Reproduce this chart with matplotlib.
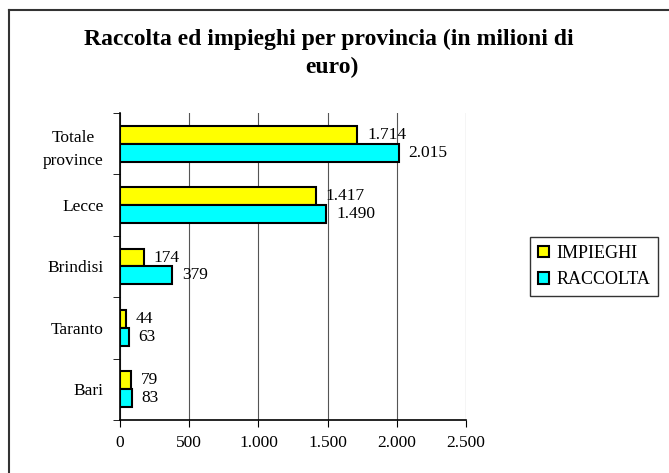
import numpy as np
import matplotlib.pyplot as plt
from matplotlib.lines import Line2D

province = ["Bari", "Taranto", "Brindisi", "Lecce", "Totale\nprovince"]
impieghi = [79, 44, 174, 1417, 1714]
raccolta = [83, 63, 379, 1490, 2015]
xticks = [0, 500, 1000, 1500, 2000, 2500]

def fmt(v):
    return f"{v:,}".replace(",", ".")

plt.rcParams['font.family'] = ['Liberation Serif', 'DejaVu Serif']

fig = plt.figure(figsize=(6.69, 4.73), dpi=100)
ax = fig.add_axes([0.1794, 0.1121, 0.5172, 0.649])

# cornice: solo lato sinistro e superiore visibili
x0, y0 = 8.5/669, 1 - 10.5/473
fig.lines.append(Line2D([x0, x0], [0, y0], transform=fig.transFigure, color="#333333", linewidth=1.5))
fig.lines.append(Line2D([x0, 1], [y0, y0], transform=fig.transFigure, color="#333333", linewidth=1.5))

y = np.arange(len(province))
h = 0.29
ax.barh(y + h/2, impieghi, h, color="#ffff00", edgecolor="black", linewidth=1.5, label="IMPIEGHI", zorder=3)
ax.barh(y - h/2, raccolta, h, color="#00ffff", edgecolor="black", linewidth=1.5, label="RACCOLTA", zorder=3)

for i in range(len(province)):
    ax.annotate(fmt(impieghi[i]), (impieghi[i], y[i] + h/2), xytext=(7, 0), textcoords="offset points",
                va="center", ha="left", fontsize=12.5)
    ax.annotate(fmt(raccolta[i]), (raccolta[i], y[i] - h/2), xytext=(7, 0), textcoords="offset points",
                va="center", ha="left", fontsize=12.5)

ax.set_xlim(0, 2500)
ax.set_ylim(-0.5, len(province) - 0.5)
ax.set_xticks(xticks)
ax.set_xticklabels([fmt(v) for v in xticks], fontsize=12.5)
ax.set_yticks(y)
ax.set_yticklabels(province, fontsize=12.5, multialignment="center", linespacing=1.6)
ax.tick_params(axis="y", length=0, pad=12)
ax.set_yticks(np.arange(-0.5, len(province), 1), minor=True)
ax.tick_params(axis="y", which="minor", length=5, direction="out")
ax.tick_params(axis="x", length=5, direction="out", pad=6)
ax.grid(axis="x", color="#555555", linewidth=0.8, zorder=0)
for s in ["top", "right"]:
    ax.spines[s].set_visible(False)
ax.spines["left"].set_linewidth(1.2)
ax.spines["bottom"].set_linewidth(1.2)

handles, labels = ax.get_legend_handles_labels()
leg = fig.legend(handles, labels, loc="upper left", bbox_to_anchor=(530/669, 1 - 237/473),
                 fancybox=False, edgecolor="black", fontsize=13, handlelength=0.6, handleheight=0.6,
                 handletextpad=0.4, borderpad=0.45, labelspacing=0.5, borderaxespad=0)
leg.get_frame().set_linewidth(1.0)

fig.text(329/669, 1 - 45/473, "Raccolta ed impieghi per provincia (in milioni di", ha="center", va="baseline",
         fontsize=17, fontweight="bold")
fig.text(332/669, 1 - 73/473, "euro)", ha="center", va="baseline", fontsize=17, fontweight="bold")

fig.savefig("out.png", dpi=100)
